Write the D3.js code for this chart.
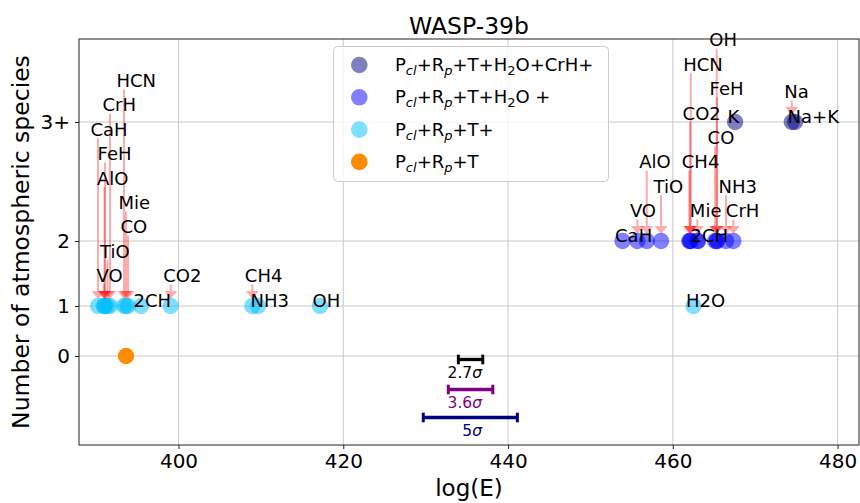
<!DOCTYPE html>
<html><head><meta charset="utf-8">
<script src="https://cdn.jsdelivr.net/npm/d3@7"></script>
<style>
body{margin:0;background:#fff}
svg{display:block}
text{font-family:"DejaVu Sans",sans-serif;fill:#000}
</style>
</head><body>
<svg id="chart" width="860" height="503"></svg>
<script>
// ---- data ----
// retrievals with one atmospheric species (P_cl+R_p+T+)
const cyanNames = ["HCN","CrH","CaH","FeH","AlO","Mie","CO","TiO","VO","2CH","CO2","CH4","NH3","OH","H2O"];
const cyanLogE  = [393.38,391.68,390.23,391.08,391.02,393.62,393.87,391.38,390.96,395.45,399.05,408.96,409.65,417.18,462.5];
const cyanTier  = [9,8,7,6,5,4,3,2,1,0,1,1,0,0,0];
// retrievals with two species (P_cl+R_p+T+H2O +)
const blueNames = ["CaH","VO","AlO","TiO","CH4","CO2","HCN","Mie","2CH","OH","FeH","CO","NH3","CrH"];
const blueLogE  = [453.9,455.7,456.84,458.57,462.0,462.1,462.18,462.98,463.07,465.33,465.37,465.13,466.46,467.35];
const blueTier  = [0,1,3,2,3,5,7,1,0,8,6,4,2,1];
// retrievals with three or more species (P_cl+R_p+T+H2O+CrH+)
const navyNames = ["K","Na","Na+K"];
const navyLogE  = [467.56,474.44,474.84];
const navyTier  = [0,1,0];
// baseline retrieval (P_cl+R_p+T)
const orangeLogE = [393.63];

// y levels: number of species
const yTickLabels = ["0","1","2","3+"];
const yTickPos    = [0,1,2.3,4.68];
const xTicks      = [400,420,440,460,480];

// significance bars
const sigmaLabels = ["2.7σ","3.6σ","5σ"];
const sigmaCenter = [435.45,435.45,435.42];
const sigmaHalf   = [1.48,2.70,5.71];
const sigmaY      = [-0.07,-0.67,-1.23];
const sigmaColors = ["#000000","#800080","#000080"];

const legendLabels = [
  [["P"],["cl","subi"],["+R"],["p","subi"],["+T+H"],["2","sub"],["O+CrH+"]],
  [["P"],["cl","subi"],["+R"],["p","subi"],["+T+H"],["2","sub"],["O +"]],
  [["P"],["cl","subi"],["+R"],["p","subi"],["+T+"]],
  [["P"],["cl","subi"],["+R"],["p","subi"],["+T"]]
];
const legendColors = ["rgba(0,0,128,0.5)","rgba(0,0,255,0.5)","rgba(0,191,255,0.5)","#ff8c00"];

// ---- layout ----
const M = {l:79, r:859, t:39, b:445};
const svg = d3.select("#chart");
const x = d3.scaleLinear().domain([387.92,482.6]).range([M.l,M.r]);
const y = d3.scaleLinear().domain([-1.78,6.34]).range([M.b,M.t]);

// grid
const g = svg.append("g");
g.selectAll(".vg").data(xTicks).join("line")
  .attr("x1",d=>x(d)).attr("x2",d=>x(d)).attr("y1",M.t).attr("y2",M.b)
  .attr("stroke","#c4c4c4").attr("stroke-width",0.9);
g.selectAll(".hg").data(yTickPos).join("line")
  .attr("y1",d=>y(d)).attr("y2",d=>y(d)).attr("x1",M.l).attr("x2",M.r)
  .attr("stroke","#c4c4c4").attr("stroke-width",0.9);

// axes
const xAxis = d3.axisBottom(x).tickValues(xTicks).tickSize(4).tickPadding(5).tickFormat(d3.format("d"));
const yAxis = d3.axisLeft(y).tickValues(yTickPos).tickSize(4).tickPadding(5).tickFormat((d,i)=>yTickLabels[i]);
const gx = svg.append("g").attr("transform",`translate(0,${M.b})`).call(xAxis);
const gy = svg.append("g").attr("transform",`translate(${M.l},0)`).call(yAxis);
[gx,gy].forEach(a=>{
  a.select(".domain").remove();
  a.selectAll("text").style("font-size","20px").style("font-family","DejaVu Sans");
  a.selectAll("line").attr("stroke","#222");
});

// points
function dots(logE, level, color){
  svg.append("g").selectAll("circle").data(logE).join("circle")
    .attr("cx",d=>x(d)).attr("cy",y(level)).attr("r",8.2).attr("fill",color);
}
dots(cyanLogE, yTickPos[1], "rgba(0,191,255,0.5)");
dots(blueLogE, yTickPos[2], "rgba(0,0,255,0.5)");
dots(navyLogE, yTickPos[3], "rgba(0,0,128,0.5)");
dots(orangeLogE, yTickPos[0], "#ff8c00");

// annotations: label stacked above the point with an arrow down to it
const STEP = 24.4;
function annotate(names, logE, tiers, level){
  const ann = svg.append("g");
  names.forEach((n,i)=>{
    const px = x(logE[i]), py = y(level);
    const base = py - tiers[i]*STEP;
    if(tiers[i] > 0){
      const tip = py - 7, hb = tip - 8, top = base + 3, w = 1, hw = 6.5;
      ann.append("path")
        .attr("d",`M${px-w},${top}L${px+w},${top}L${px+w},${hb}L${px+hw},${hb}L${px},${tip}L${px-hw},${hb}L${px-w},${hb}Z`)
        .attr("fill","rgba(255,0,0,0.33)");
    }
  });
  names.forEach((n,i)=>{
    const px = x(logE[i]), py = y(level);
    ann.append("text").attr("x",px-7.5).attr("y",py - tiers[i]*STEP + 0.5)
      .style("font-size","18px").text(n);
  });
}
annotate(cyanNames, cyanLogE, cyanTier, yTickPos[1]);
annotate(blueNames, blueLogE, blueTier, yTickPos[2]);
annotate(navyNames, navyLogE, navyTier, yTickPos[3]);

// significance bars
const sg = svg.append("g");
sigmaLabels.forEach((lab,i)=>{
  const x0 = x(sigmaCenter[i]-sigmaHalf[i]), x1 = x(sigmaCenter[i]+sigmaHalf[i]), yy = y(sigmaY[i]);
  sg.append("line").attr("x1",x0).attr("x2",x1).attr("y1",yy).attr("y2",yy)
    .attr("stroke",sigmaColors[i]).attr("stroke-width",3.3);
  [x0,x1].forEach(xc=>sg.append("line").attr("x1",xc).attr("x2",xc).attr("y1",yy-4.8).attr("y2",yy+4.8)
    .attr("stroke",sigmaColors[i]).attr("stroke-width",3));
  const t = sg.append("text").attr("x",482).attr("y",yy+18.5).attr("text-anchor","end")
    .style("font-size","15.5px").style("fill",sigmaColors[i]);
  t.append("tspan").text(lab.slice(0,-1));
  t.append("tspan").style("font-style","italic").text("σ");
});

// frame
svg.append("rect").attr("x",M.l).attr("y",M.t).attr("width",M.r-M.l).attr("height",M.b-M.t)
  .attr("fill","none").attr("stroke","#222").attr("stroke-width",1);

// legend
const lg = svg.append("g");
lg.append("rect").attr("x",333.5).attr("y",46.5).attr("width",275).attr("height",135).attr("rx",4)
  .attr("fill","rgba(255,255,255,0.8)").attr("stroke","#cccccc");
legendLabels.forEach((parts,i)=>{
  const cy = 65 + i*32.3;
  lg.append("circle").attr("cx",359.3).attr("cy",cy).attr("r",8.3).attr("fill",legendColors[i]);
  const t = lg.append("text").attr("x",395).attr("y",cy+6).style("font-size","18px");
  let shifted = false;
  parts.forEach(([s,kind])=>{
    const sp = t.append("tspan").text(s);
    if(kind){
      sp.attr("dy", shifted ? 0 : 4).style("font-size","13px");
      if(kind==="subi") sp.style("font-style","italic");
      shifted = true;
    } else {
      if(shifted) sp.attr("dy",-4);
      shifted = false;
    }
  });
});

// titles
svg.append("text").attr("x",(M.l+M.r)/2).attr("y",34).attr("text-anchor","middle")
  .style("font-size","23.5px").text("WASP-39b");
svg.append("text").attr("x",(M.l+M.r)/2).attr("y",496).attr("text-anchor","middle")
  .style("font-size","23px").text("log(E)");
svg.append("text").attr("transform",`translate(29,${(M.t+M.b)/2}) rotate(-90)`).attr("text-anchor","middle")
  .style("font-size","23.5px").text("Number of atmospheric species");
</script>
</body></html>
